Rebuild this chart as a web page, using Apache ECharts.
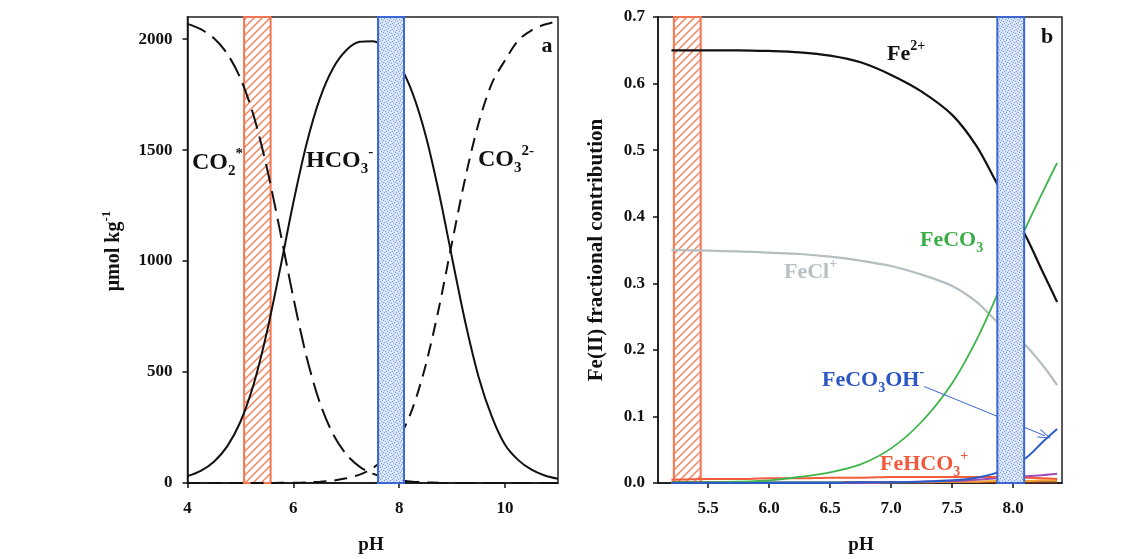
<!DOCTYPE html>
<html><head><meta charset="utf-8">
<script src="https://cdn.jsdelivr.net/npm/echarts@6/dist/echarts.min.js"></script>
<style>html,body{margin:0;padding:0;background:#fff}#c{width:1143px;height:559px}</style>
</head><body><div id="c"></div>
<script>
// ---------- Panel a : carbonate speciation (umol/kg) ----------
const pHA   = [4.0,4.25,4.5,4.75,5.0,5.25,5.5,5.75,6.0,6.25,6.5,6.75,7.0,7.25,7.5,7.75,8.0,8.25,8.5,8.75,9.0,9.25,9.5,9.75,10.0,10.25,10.5,10.75,11.0];
const co2A  = [2069,2045,2004,1935,1824,1655,1420,1134,835,568,362,220,129,74,42,23,12,6,3,1,0,0,0,0,0,0,0,0,0];
const hco3A = [31,55,96,165,276,445,680,965,1264,1529,1732,1869,1950,1988,1991,1959,1886,1758,1566,1309,1013,723,478,299,172,103,60,34,19];
const co3A  = [0,0,0,0,0,0,0,1,1,3,6,11,21,38,67,118,202,335,531,789,1086,1377,1621,1801,1905,1995,2040,2066,2081];
const ticksAX = [4,6,8,10];
const ticksAY = [0,500,1000,1500,2000];
const redBandA  = [5.07,5.57];
const blueBandA = [7.60,8.09];

// ---------- Panel b : Fe(II) fractional contribution ----------
const pHB      = [5.2,5.5,5.75,6.0,6.25,6.5,6.75,7.0,7.25,7.5,7.7,7.87,8.1,8.25,8.36];
const fe2B     = [0.650,0.650,0.650,0.649,0.647,0.642,0.632,0.613,0.588,0.553,0.506,0.449,0.372,0.314,0.272];
const feclB    = [0.350,0.349,0.348,0.346,0.344,0.340,0.334,0.326,0.313,0.296,0.272,0.242,0.207,0.175,0.147];
const feco3B   = [0.001,0.001,0.002,0.004,0.009,0.016,0.028,0.052,0.092,0.150,0.215,0.283,0.382,0.440,0.481];
const feco3ohB = [0,0,0,0,0,0,0.001,0.001,0.002,0.004,0.008,0.016,0.037,0.063,0.081];
const fehco3B  = [0.005,0.006,0.006,0.007,0.007,0.008,0.008,0.009,0.009,0.009,0.009,0.009,0.008,0.007,0.006];
const purpleB  = [0,0,0,0,0,0,0,0.001,0.002,0.003,0.005,0.007,0.010,0.012,0.014];
const orangeB  = [0,0,0,0,0,0,0,0.001,0.001,0.002,0.002,0.003,0.003,0.004,0.004];
const brownB   = [0.001,0.001,0.001,0.001,0.001,0.001,0.001,0.001,0.001,0.001,0.001,0.001,0.001,0.001,0.001];
const cyanX    = [5.8,6.6];
const cyanY    = [0.0006,0.0006];
const ticksBX  = [5.5,6.0,6.5,7.0,7.5,8.0];
const redBandB  = [5.22,5.44];
const blueBandB = [7.87,8.09];
const arrowB    = [[7.27,0.145],[8.26,0.071]];

const FONT = '"Liberation Serif","Times New Roman",serif';

function hatch(){
  const c=document.createElement('canvas');c.width=8;c.height=8;
  const g=c.getContext('2d');g.fillStyle='#fff';g.fillRect(0,0,8,8);
  g.strokeStyle='#f4835f';g.lineWidth=1.5;g.beginPath();
  g.moveTo(-1,9);g.lineTo(9,-1);g.moveTo(-1,1);g.lineTo(1,-1);g.moveTo(7,9);g.lineTo(9,7);g.stroke();
  return c;
}
function speckle(){
  const c=document.createElement('canvas');c.width=6;c.height=6;
  const g=c.getContext('2d');g.fillStyle='#d5e1f5';g.fillRect(0,0,6,6);
  g.fillStyle='#7c9ce0';
  [[0,0],[3,1],[1,3],[4,4],[2,5],[5,2]].forEach(p=>g.fillRect(p[0],p[1],1,1));
  g.fillStyle='#f4f7fd';[[2,1],[5,4],[0,4]].forEach(p=>g.fillRect(p[0],p[1],1,1));
  return c;
}
const HATCH={image:hatch(),repeat:'repeat'};
const SPECK={image:speckle(),repeat:'repeat'};

function band(idx, b, fill, stroke, z, ymax){
  return {type:'custom', xAxisIndex:idx, yAxisIndex:idx, z:z, silent:true,
    data:[[b[0],b[1]]], encode:{x:[0,1]},
    renderItem:(params,api)=>{
      const p0=api.coord([api.value(0),ymax]); const p1=api.coord([api.value(1),0]);
      return {type:'rect', shape:{x:p0[0],y:p0[1],width:p1[0]-p0[0],height:p1[1]-p0[1]},
        style:{fill:fill,stroke:stroke,lineWidth:2}};
    }};
}
function zip(xs,ys){return xs.map((x,i)=>[x,ys[i]]);}
function line(idx,xs,ys,color,width,type,z){
  return {type:'line', xAxisIndex:idx, yAxisIndex:idx, data:zip(xs,ys), showSymbol:false, symbol:'none',
    smooth:0.3, z:z||2, silent:true,
    lineStyle:{color:color,width:width,type:type||'solid'}};
}

const axisBase = (extra)=>Object.assign({
  type:'value', splitLine:{show:false},
  axisLine:{show:true,onZero:false,lineStyle:{color:'#111',width:1.5}},
}, extra);
const lblStyle = {fontFamily:FONT,fontWeight:'bold',fontSize:17,color:'#111'};
const tickStyle = {show:true,inside:false,length:5,lineStyle:{color:'#111',width:1.5}};

function richFor(color,big,small){
  return {
    b:{fontFamily:FONT,fontWeight:'bold',fontSize:big,lineHeight:big+8,fill:color},
    sub:{fontFamily:FONT,fontWeight:'bold',fontSize:small,lineHeight:small,verticalAlign:'bottom',fill:color},
    sup:{fontFamily:FONT,fontWeight:'bold',fontSize:small,lineHeight:small,verticalAlign:'top',fill:color}
  };
}
function label(x,y,text,color,big,small,extra){
  return Object.assign({type:'text', x:x, y:y, silent:true, z:100,
    style:{text:text, rich:richFor(color,big,small), fill:color, align:'left', verticalAlign:'middle'}}, extra||{});
}
function plain(x,y,text,size,rot){
  return {type:'text',x:x,y:y,rotation:rot||0,silent:true,z:100,
    style:{text:text,fontFamily:FONT,fontWeight:'bold',fontSize:size,fill:'#111',align:'center',verticalAlign:'middle'}};
}

const chart = echarts.init(document.getElementById('c'),null,{renderer:'canvas'});
chart.setOption({
  animation:false,
  backgroundColor:'#fff',
  grid:[
    {left:187.5,right:585,top:17,bottom:76,show:true,borderColor:'#222',borderWidth:1.5,backgroundColor:'transparent'},
    {left:658,right:81,top:17,bottom:76,show:true,borderColor:'#222',borderWidth:1.5,backgroundColor:'transparent'}
  ],
  xAxis:[
    axisBase({gridIndex:0,min:4,max:11,
      axisTick:Object.assign({customValues:ticksAX},tickStyle),
      axisLabel:Object.assign({customValues:ticksAX,margin:17,formatter:v=>String(v)},lblStyle)}),
    axisBase({gridIndex:1,min:5.09,max:8.4,
      axisTick:Object.assign({customValues:ticksBX},tickStyle),
      axisLabel:Object.assign({customValues:ticksBX,margin:17,formatter:v=>(+v).toFixed(1)},lblStyle)})
  ],
  yAxis:[
    axisBase({gridIndex:0,min:0,max:2100,
      axisTick:Object.assign({customValues:ticksAY},tickStyle),
      axisLabel:Object.assign({customValues:ticksAY,margin:15,formatter:v=>String(v)},lblStyle)}),
    axisBase({gridIndex:1,min:0,max:0.7,interval:0.1,
      axisTick:tickStyle,
      axisLabel:Object.assign({margin:13,formatter:v=>(+v).toFixed(1)},lblStyle)})
  ],
  series:[
    band(0,redBandA,HATCH,'#f37552',1,2100),
    line(0,pHA,co2A,'#111',2,[20,8]),
    line(0,pHA,co3A,'#111',2,[13,8]),
    line(0,pHA,hco3A,'#111',2,'solid'),
    band(0,blueBandA,SPECK,'#3b67d2',6,2100),

    band(1,redBandB,HATCH,'#f37552',1,0.7),
    line(1,pHB,brownB,'#7d3322',2),
    Object.assign(line(1,cyanX,cyanY,'#4cc4ea',2),{smooth:false}),
    line(1,pHB,orangeB,'#f2a22e',2),
    line(1,pHB,purpleB,'#a04ab6',2),
    line(1,pHB,fehco3B,'#f25c3b',2),
    line(1,pHB,feclB,'#b5bdc0',2.2),
    line(1,pHB,feco3B,'#3db54a',1.8),
    Object.assign(line(1,pHB,feco3ohB,'#2a5cc8',2),{
      markLine:{silent:true,symbol:['none','path://M0,12 L5,0 L10,12 L9,12 L5,2.5 L1,12 Z'],symbolSize:[9,13],
        label:{show:false},lineStyle:{color:'#3a64d0',width:1,type:'solid'},
        data:[[{coord:arrowB[0]},{coord:arrowB[1]}]]}}),
    line(1,pHB,fe2B,'#111',2.2),
    band(1,blueBandB,SPECK,'#3b67d2',6,0.7)
  ],
  graphic:[
    label(114,251,'{b|μmol kg}{sup|-1}','#111',20,13,{rotation:Math.PI/2,style:{text:'{b|μmol kg}{sup|-1}',rich:richFor('#111',20,13),fill:'#111',align:'center',verticalAlign:'middle'}}),
    plain(597,250,'Fe(II) fractional contribution',21,Math.PI/2),
    plain(371,545,'pH',19),
    plain(861,545,'pH',19),
    plain(547,46,'a',22),
    plain(1047,37,'b',22),
    label(192,163,'{b|CO}{sub|2}{sup|*}','#111',24,15),
    label(306,161,'{b|HCO}{sub|3}{sup|-}','#111',24,15),
    label(478,160,'{b|CO}{sub|3}{sup|2-}','#111',24,15),
    label(887,54,'{b|Fe}{sup|2+}','#111',22,14),
    label(920,240,'{b|FeCO}{sub|3}','#3aad47',22,14),
    label(784,272,'{b|FeCl}{sup|+}','#b9c0c3',22,14),
    label(822,380,'{b|FeCO}{sub|3}{b|OH}{sup|-}','#2a55c2',22,14),
    label(880,464,'{b|FeHCO}{sub|3}{sup|+}','#f2593a',22,14)
  ]
});
</script></body></html>
